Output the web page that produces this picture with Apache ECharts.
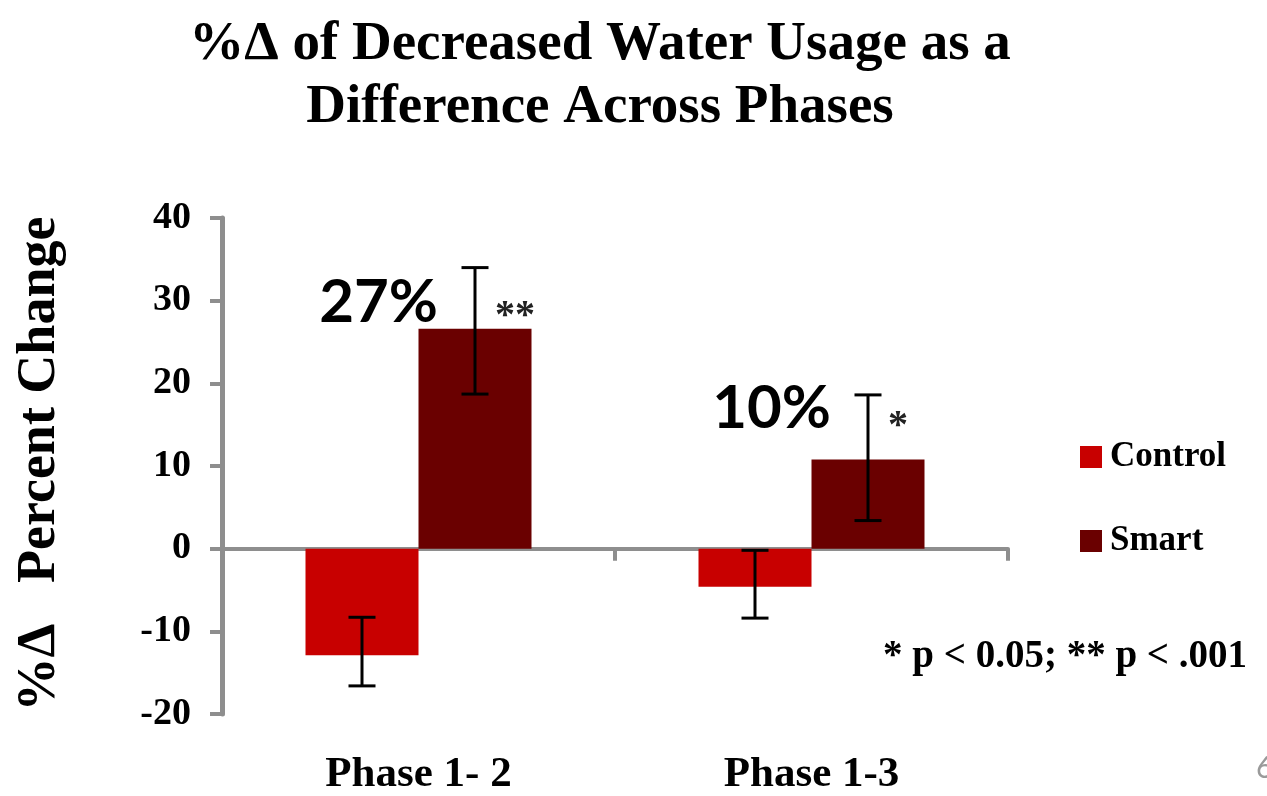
<!DOCTYPE html>
<html>
<head>
<meta charset="utf-8">
<script src="https://cdn.jsdelivr.net/npm/echarts@6/dist/echarts.min.js"></script>
<style>
html,body{margin:0;padding:0;background:#fff;}
#chart{width:1267px;height:796px;}
</style>
</head>
<body>
<div id="chart"></div>
<script>
const categories = ['Phase 1- 2', 'Phase 1-3'];
const seriesNames = ['Control', 'Smart'];
const controlValues = [-12.9, -4.6];
const smartValues = [26.6, 10.8];
const controlErrLow = [-16.6, -8.4];
const controlErrHigh = [-8.3, -0.2];
const smartErrLow = [18.7, 3.4];
const smartErrHigh = [34.0, 18.6];
const pctLabels = ['27%', '10%'];
const pctLabelY = [29.8, 16.9];
const sigLabels = ['**', '*'];
const sigLabelY = [29.0, 15.7];
const footnote = '* p < 0.05; ** p < .001';
const yAxisName = '%\u0394   Percent Change';
const titleLines = ['%\u0394 of Decreased Water Usage as a', 'Difference Across Phases'];

const BAR_W = 113;
const CAP_W = 27;
const SERIF = '"Liberation Serif", "Times New Roman", serif';
const CONTROL_COLOR = '#C80000';
const SMART_COLOR = '#6A0000';
const AXIS_COLOR = '#8E8E8E';

function errData(lo, hi) {
  return categories.map((c, i) => [i, lo[i], hi[i]]);
}

function makeRender(sign, withLabels) {
  return function (params, api) {
    const cat = api.value(0);
    const lo = api.coord([cat, api.value(1)]);
    const hi = api.coord([cat, api.value(2)]);
    const x = hi[0] + sign * BAR_W / 2;
    const st = { stroke: '#000', lineWidth: 3 };
    const children = [
      { type: 'line', shape: { x1: x, y1: hi[1], x2: x, y2: lo[1] }, style: st },
      { type: 'line', shape: { x1: x - CAP_W / 2, y1: hi[1], x2: x + CAP_W / 2, y2: hi[1] }, style: st },
      { type: 'line', shape: { x1: x - CAP_W / 2, y1: lo[1], x2: x + CAP_W / 2, y2: lo[1] }, style: st }
    ];
    if (withLabels) {
      const idx = params.dataIndex;
      const pY = api.coord([cat, pctLabelY[idx]])[1];
      const sY = api.coord([cat, sigLabelY[idx]])[1];
      children.push({
        type: 'text',
        style: {
          x: x - 37, y: pY, text: pctLabels[idx],
          font: 'bold 60px Lato, "Open Sans", sans-serif',
          fill: '#000', align: 'right', verticalAlign: 'middle'
        }
      });
      children.push({
        type: 'text',
        style: {
          x: x + 20, y: sY + 8, text: sigLabels[idx],
          font: 'bold 40px ' + SERIF,
          fill: '#222', align: 'left', verticalAlign: 'middle'
        }
      });
    }
    return { type: 'group', children: children };
  };
}

const chart = echarts.init(document.getElementById('chart'));
chart.setOption({
  animation: false,
  backgroundColor: '#fff',
  title: {
    text: titleLines.join('\n'),
    left: 595,
    textAlign: 'center',
    top: 8,
    textStyle: { fontFamily: SERIF, fontWeight: 'bold', fontSize: 55, lineHeight: 63, color: '#000' }
  },
  legend: {
    orient: 'vertical',
    left: 1080,
    top: 439,
    padding: 0,
    itemWidth: 22,
    itemHeight: 22,
    itemGap: 48,
    icon: 'rect',
    data: seriesNames,
    textStyle: { fontFamily: SERIF, fontWeight: 'bold', fontSize: 35, lineHeight: 36, color: '#000', padding: [0, 0, 0, 3] }
  },
  grid: { left: 222, right: 259, top: 218, bottom: 77, containLabel: false },
  xAxis: [
    {
      type: 'category',
      data: categories,
      axisLine: { onZero: true, lineStyle: { color: AXIS_COLOR, width: 4 } },
      axisTick: { show: true, length: 12, lineStyle: { color: AXIS_COLOR, width: 4 } },
      axisLabel: { show: false },
      splitLine: { show: false }
    },
    {
      type: 'category',
      data: categories,
      position: 'bottom',
      axisLine: { show: false, onZero: false },
      axisTick: { show: false },
      axisLabel: { margin: 39, fontFamily: SERIF, fontWeight: 'bold', fontSize: 43, color: '#000' },
      splitLine: { show: false }
    }
  ],
  yAxis: {
    type: 'value',
    min: -20,
    max: 40,
    interval: 10,
    axisLine: { show: true, lineStyle: { color: AXIS_COLOR, width: 5 } },
    axisTick: { show: true, length: 12, lineStyle: { color: AXIS_COLOR, width: 4 } },
    axisLabel: { margin: 31, fontFamily: SERIF, fontWeight: 'bold', fontSize: 38, color: '#000' },
    splitLine: { show: false }
  },
  graphic: [
    {
      type: 'text', x: 40, y: 464, rotation: Math.PI / 2,
      style: { text: yAxisName, font: 'bold 54px ' + SERIF, fill: '#000', align: 'center', verticalAlign: 'middle' }
    },
    {
      type: 'text', x: 883, y: 657,
      style: { text: footnote, font: 'bold 39px ' + SERIF, fill: '#000', align: 'left', verticalAlign: 'middle' }
    },
    {
      type: 'text', x: 1256, y: 768,
      style: { text: '6', font: '30px Lato, sans-serif', fill: '#9a9a9a', align: 'left', verticalAlign: 'middle' }
    }
  ],
  series: [
    {
      name: 'Control', type: 'bar', xAxisIndex: 0, data: controlValues,
      barWidth: BAR_W, barGap: '0%', itemStyle: { color: CONTROL_COLOR }
    },
    {
      name: 'Smart', type: 'bar', xAxisIndex: 0, data: smartValues,
      barWidth: BAR_W, barGap: '0%', itemStyle: { color: SMART_COLOR }
    },
    {
      type: 'custom', xAxisIndex: 0, z: 5, data: errData(controlErrLow, controlErrHigh),
      renderItem: makeRender(-1, false), encode: { x: 0, y: [1, 2] }, silent: true
    },
    {
      type: 'custom', xAxisIndex: 0, z: 5, data: errData(smartErrLow, smartErrHigh),
      renderItem: makeRender(1, true), encode: { x: 0, y: [1, 2] }, silent: true, clip: false
    }
  ]
});
</script>
</body>
</html>
